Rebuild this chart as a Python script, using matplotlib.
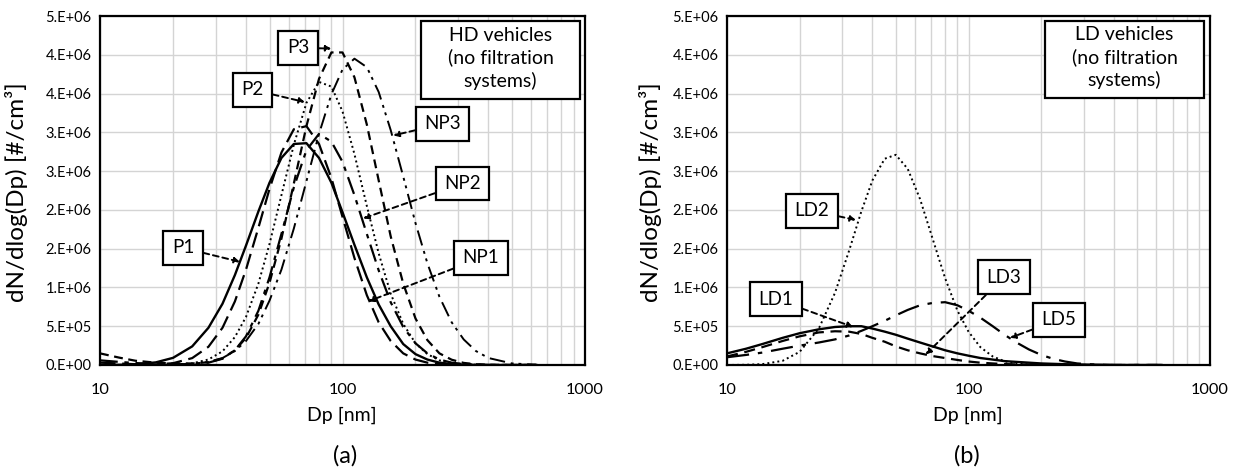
import numpy as np
import matplotlib
matplotlib.use('Agg')
import matplotlib.pyplot as plt
from matplotlib.patches import Rectangle
from matplotlib.ticker import FixedLocator, LogLocator, NullFormatter

plt.rcParams['font.family'] = ['Lato', 'DejaVu Sans']

# particle diameter grid [nm], values in 1e6 #/cm3
dp = [10, 12, 14, 17, 20, 24, 28, 32, 36, 40, 45, 50, 56, 63, 71, 80, 90, 100,
      112, 126, 141, 158, 178, 200, 224, 251, 282, 316, 355, 400, 500, 630]

# (a) HD vehicles
p1 = [0.00, 0.003, 0.009, 0.034, 0.092, 0.24, 0.48, 0.79, 1.16, 1.54, 1.98, 2.35, 2.67, 2.85, 2.86, 2.67,
      2.35, 1.97, 1.55, 1.13, 0.78, 0.50, 0.27, 0.14, 0.07, 0.03, 0.012, 0.005, 0.002, 0.0, 0.0, 0.0]
p2 = [0.0, 0.0, 0.0, 0.001, 0.004, 0.021, 0.071, 0.176, 0.36, 0.62, 1.05, 1.56, 2.19, 2.84, 3.38, 3.65,
      3.59, 3.27, 2.72, 2.05, 1.44, 0.92, 0.53, 0.28, 0.14, 0.06, 0.025, 0.009, 0.003, 0.0, 0.0, 0.0]
p3 = [0.15, 0.095, 0.055, 0.03, 0.02, 0.02, 0.035, 0.085, 0.19, 0.35, 0.65, 1.06, 1.63, 2.34, 3.08, 3.69,
      4.03, 4.03, 3.71, 3.10, 2.38, 1.66, 1.05, 0.60, 0.32, 0.15, 0.068, 0.027, 0.01, 0.003, 0.0, 0.0]
np1 = [0.03, 0.02, 0.01, 0.008, 0.023, 0.089, 0.235, 0.48, 0.82, 1.23, 1.77, 2.27, 2.74, 3.04, 3.08, 2.85,
       2.41, 1.91, 1.38, 0.90, 0.55, 0.31, 0.15, 0.07, 0.03, 0.012, 0.004, 0.0, 0.0, 0.0, 0.0, 0.0]
np2 = [0.06, 0.04, 0.025, 0.012, 0.008, 0.012, 0.03, 0.081, 0.19, 0.37, 0.70, 1.13, 1.69, 2.29, 2.77, 2.98,
       2.88, 2.62, 2.19, 1.69, 1.22, 0.81, 0.49, 0.28, 0.15, 0.07, 0.03, 0.013, 0.005, 0.0, 0.0, 0.0]
np3 = [0.0, 0.0, 0.0, 0.0, 0.003, 0.014, 0.04, 0.09, 0.18, 0.31, 0.53, 0.83, 1.23, 1.76, 2.37, 2.98,
       3.49, 3.81, 3.95, 3.84, 3.52, 3.03, 2.43, 1.83, 1.31, 0.88, 0.55, 0.33, 0.18, 0.09, 0.02, 0.004]

# (b) LD vehicles
ld1 = [0.15, 0.21, 0.27, 0.35, 0.41, 0.46, 0.49, 0.50, 0.50, 0.47, 0.43, 0.39, 0.34, 0.29, 0.24, 0.19,
       0.15, 0.12, 0.09, 0.07, 0.05, 0.04, 0.03, 0.02, 0.015, 0.01, 0.007, 0.005, 0.003, 0.0, 0.0, 0.0]
ld2 = [0.0, 0.003, 0.011, 0.054, 0.17, 0.47, 0.93, 1.47, 1.98, 2.38, 2.66, 2.71, 2.53, 2.14, 1.63, 1.12,
       0.70, 0.43, 0.23, 0.11, 0.048, 0.019, 0.006, 0.002, 0.0, 0.0, 0.0, 0.0, 0.0, 0.0, 0.0, 0.0]
ld3 = [0.11, 0.17, 0.23, 0.31, 0.37, 0.42, 0.435, 0.43, 0.40, 0.35, 0.30, 0.24, 0.19, 0.15, 0.115, 0.09,
       0.065, 0.045, 0.03, 0.02, 0.012, 0.008, 0.005, 0.003, 0.002, 0.0, 0.0, 0.0, 0.0, 0.0, 0.0, 0.0]
ld5 = [0.10, 0.13, 0.16, 0.21, 0.25, 0.29, 0.33, 0.38, 0.44, 0.50, 0.57, 0.64, 0.71, 0.77, 0.80, 0.81,
       0.77, 0.70, 0.61, 0.50, 0.39, 0.29, 0.20, 0.13, 0.08, 0.045, 0.02, 0.01, 0.003, 0.0, 0.0, 0.0]

ytick_vals = [0, 5e5, 1e6, 1.5e6, 2e6, 2.5e6, 3e6, 3.5e6, 4e6, 4.5e6]
ytick_labels = ['0.E+00', '5.E+05', '1.E+06', '2.E+06', '2.E+06', '3.E+06', '3.E+06', '4.E+06', '4.E+06', '5.E+06']

styles = {
    'solid': '-',
    'longdash': (0, (7, 3)),
    'dot': (0, (1, 1.6)),
    'dash': (0, (4, 2.5)),
    'dashdot': (0, (8, 3, 2, 3)),
    'dashdotdot': (0, (8, 3, 1.5, 2.5, 1.5, 3)),
}

fig = plt.figure(figsize=(12.35, 4.74), dpi=100)
ax1 = fig.add_axes([100 / 1235, 1 - 365 / 474, 485 / 1235, 349 / 474])
ax2 = fig.add_axes([727 / 1235, 1 - 365 / 474, 483 / 1235, 349 / 474])


def setup(ax):
    ax.set_xscale('log')
    ax.set_xlim(10, 1000)
    ax.set_ylim(0, 4.5e6)
    ax.xaxis.set_major_locator(FixedLocator([10, 100, 1000]))
    ax.xaxis.set_minor_locator(LogLocator(base=10, subs=np.arange(2, 10)))
    ax.xaxis.set_minor_formatter(NullFormatter())
    ax.set_xticklabels(['10', '100', '1000'])
    ax.set_yticks(ytick_vals)
    ax.set_yticklabels(ytick_labels)
    ax.tick_params(axis='both', which='both', length=0)
    ax.tick_params(axis='y', labelsize=10.5, pad=6)
    ax.tick_params(axis='x', labelsize=11.8, pad=13)
    ax.grid(True, which='both', color='#d4d4d4', lw=1)
    ax.set_axisbelow(True)
    for s in ax.spines.values():
        s.set_linewidth(1.6)
        s.set_color('black')


def tag(ax, text, xy, xytext):
    ax.annotate(text, xy=xy, xytext=xytext, ha='center', va='center', fontsize=13.5, zorder=6,
                bbox=dict(boxstyle='square,pad=0.45', fc='white', ec='black', lw=1.6),
                arrowprops=dict(arrowstyle='-|>', ls=(0, (3, 2)), lw=1.4, color='black',
                                mutation_scale=8, shrinkA=0, shrinkB=0))


def note(ax, lines, x0, y0, x1, y1):
    ax.add_patch(Rectangle((x0, y0), x1 - x0, y1 - y0, transform=ax.transAxes,
                           fc='white', ec='black', lw=1.6, zorder=5))
    ax.text((x0 + x1) / 2, (y0 + y1) / 2 + 0.005, '\n'.join(lines), transform=ax.transAxes,
            ha='center', va='center', fontsize=14, linespacing=1.32, zorder=6)


d = np.array(dp)
setup(ax1)
ax1.plot(d, np.array(p1) * 1e6, color='black', lw=1.7, ls=styles['solid'])
ax1.plot(d, np.array(np1) * 1e6, color='black', lw=1.6, ls=styles['longdash'])
ax1.plot(d, np.array(p2) * 1e6, color='black', lw=1.4, ls=styles['dot'])
ax1.plot(d, np.array(p3) * 1e6, color='black', lw=1.6, ls=styles['dash'])
ax1.plot(d, np.array(np2) * 1e6, color='black', lw=1.6, ls=styles['dashdot'])
ax1.plot(d, np.array(np3) * 1e6, color='black', lw=1.4, ls=styles['dashdotdot'])

tag(ax1, 'P3', (90, 4.08e6), (65.5, 4.09e6))
tag(ax1, 'P2', (70, 3.39e6), (42.5, 3.55e6))
tag(ax1, 'P1', (37.8, 1.33e6), (22, 1.51e6))
tag(ax1, 'NP3', (162, 2.96e6), (259, 3.11e6))
tag(ax1, 'NP2', (121.6, 1.89e6), (312, 2.34e6))
tag(ax1, 'NP1', (127.6, 0.82e6), (372, 1.38e6))
note(ax1, ['HD vehicles', '(no filtration', 'systems)'], 0.662, 0.762, 0.99, 0.986)

setup(ax2)
ax2.plot(d, np.array(ld1) * 1e6, color='black', lw=1.7, ls=styles['solid'])
ax2.plot(d, np.array(ld2) * 1e6, color='black', lw=1.4, ls=styles['dot'])
ax2.plot(d, np.array(ld3) * 1e6, color='black', lw=1.6, ls=(0, (5, 3)))
ax2.plot(d, np.array(ld5) * 1e6, color='black', lw=1.6, ls=(0, (10, 4, 2, 4)))

tag(ax2, 'LD2', (34.2, 1.87e6), (22.5, 1.99e6))
tag(ax2, 'LD1', (33.3, 0.49e6), (15.9, 0.85e6))
tag(ax2, 'LD3', (66.4, 0.135e6), (140, 1.13e6))
tag(ax2, 'LD5', (148.6, 0.35e6), (237, 0.585e6))
note(ax2, ['LD vehicles', '(no filtration', 'systems)'], 0.658, 0.765, 0.988, 0.986)

ylab = 'dN/dlog(Dp) [#/cm³]'
fig.text(17 / 1235, 1 - 192 / 474, ylab, rotation=90, ha='center', va='center', fontsize=17.5)
fig.text(651 / 1235, 1 - 192 / 474, ylab, rotation=90, ha='center', va='center', fontsize=17.5)
fig.text(342 / 1235, 1 - 415 / 474, 'Dp [nm]', ha='center', va='center', fontsize=14)
fig.text(968 / 1235, 1 - 415 / 474, 'Dp [nm]', ha='center', va='center', fontsize=14)
fig.text(345 / 1235, 1 - 456 / 474, '(a)', ha='center', va='center', fontsize=17)
fig.text(967 / 1235, 1 - 456 / 474, '(b)', ha='center', va='center', fontsize=17)

fig.savefig('out.png', dpi=100)
